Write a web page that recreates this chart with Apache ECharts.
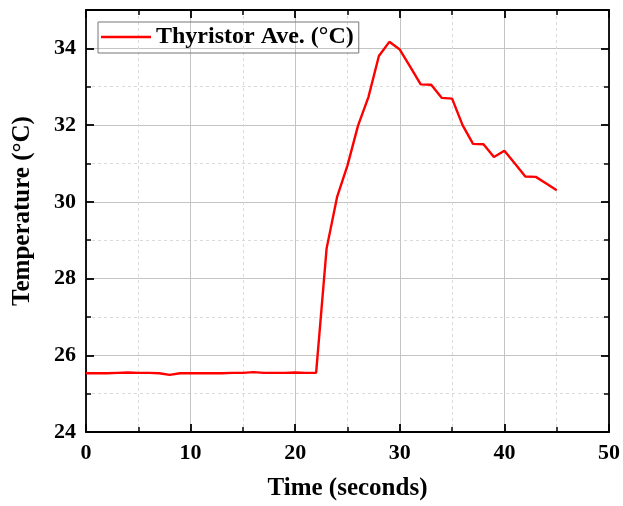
<!DOCTYPE html>
<html>
<head>
<meta charset="utf-8">
<script src="https://cdn.jsdelivr.net/npm/echarts@6/dist/echarts.min.js"></script>
<style>
html,body{margin:0;padding:0;background:#fff;}
#c{width:623px;height:506px;}
</style>
</head>
<body>
<div id="c"></div>
<script>
var seriesName = 'Thyristor Ave. (°C)';
var timeSeconds = [0,1,2,3,4,5,6,7,8,9,10,11,12,13,14,15,16,17,18,19,20,21,22,23,24,25,26,27,28,29,30,31,32,33,34,35,36,37,38,39,40,41,42,43,44,45];
var temperature = [25.53,25.53,25.53,25.54,25.55,25.54,25.54,25.53,25.49,25.53,25.53,25.53,25.53,25.53,25.54,25.54,25.56,25.54,25.54,25.54,25.55,25.54,25.54,28.78,30.12,30.95,31.98,32.73,33.8,34.17,33.97,33.52,33.06,33.05,32.71,32.69,32.0,31.51,31.5,31.17,31.33,31.0,30.66,30.65,30.48,30.3];
var xTitle = 'Time (seconds)';
var yTitle = 'Temperature (°C)';

var font = '"Liberation Serif", "Times New Roman", serif';
var pts = timeSeconds.map(function(t,i){return [t, temperature[i]];});

var chart = echarts.init(document.getElementById('c'), null, {renderer:'canvas'});
var axisLineStyle = {color:'#000', width:1.8};
chart.setOption({
  animation:false,
  backgroundColor:'#fff',
  grid:{left:86, right:13, top:10, bottom:73, containLabel:false},
  legend:{
    show:true, left:98, top:22, orient:'horizontal',
    padding:[3,5,4,3], itemWidth:50, itemHeight:14, itemGap:5,
    borderColor:'#777', borderWidth:1,
    textStyle:{fontFamily:font, fontWeight:'bold', fontSize:24, color:'#000'},
    data:[{name:seriesName, icon:'path://M0,0 L50,0 L50,2.5 L0,2.5 Z'}]
  },
  xAxis:[{
    type:'value', min:0, max:50, interval:10, position:'bottom',
    name:xTitle, nameLocation:'middle', nameGap:44,
    nameTextStyle:{fontFamily:font, fontWeight:'bold', fontSize:25, color:'#000'},
    axisLine:{show:true, onZero:false, lineStyle:axisLineStyle},
    axisTick:{show:true, inside:true, length:8, lineStyle:axisLineStyle},
    minorTick:{show:true, splitNumber:2, length:5, lineStyle:{color:'#000', width:1.5}},
    axisLabel:{fontFamily:font, fontWeight:'bold', fontSize:22, color:'#000', margin:10},
    splitLine:{show:true, lineStyle:{color:'#c4c4c4', width:1}},
    minorSplitLine:{show:true, lineStyle:{color:'#dadada', width:1, type:[3,3]}}
  },{
    type:'value', min:0, max:50, interval:10, position:'top',
    axisLine:{show:true, onZero:false, lineStyle:axisLineStyle},
    axisTick:{show:true, inside:true, length:8, lineStyle:axisLineStyle},
    minorTick:{show:true, splitNumber:2, length:5, lineStyle:{color:'#000', width:1.5}},
    axisLabel:{show:false}, splitLine:{show:false}
  }],
  yAxis:[{
    type:'value', min:24, max:35, interval:2, position:'left',
    name:yTitle, nameLocation:'middle', nameGap:51,
    nameTextStyle:{fontFamily:font, fontWeight:'bold', fontSize:25, color:'#000', padding:[0,0,0,20]},
    axisLine:{show:true, onZero:false, lineStyle:axisLineStyle},
    axisTick:{show:true, inside:true, length:8, lineStyle:axisLineStyle},
    minorTick:{show:true, splitNumber:2, length:5, lineStyle:{color:'#000', width:1.5}},
    axisLabel:{fontFamily:font, fontWeight:'bold', fontSize:22, color:'#000', margin:10,
      formatter:function(v){return v>34?'':String(v);}},
    splitLine:{show:true, lineStyle:{color:'#c4c4c4', width:1}},
    minorSplitLine:{show:true, lineStyle:{color:'#dadada', width:1, type:[3,3]}}
  },{
    type:'value', min:24, max:35, interval:2, position:'right',
    axisLine:{show:true, onZero:false, lineStyle:axisLineStyle},
    axisTick:{show:true, inside:true, length:8, lineStyle:axisLineStyle},
    minorTick:{show:true, splitNumber:2, length:5, lineStyle:{color:'#000', width:1.5}},
    axisLabel:{show:false}, splitLine:{show:false}
  }],
  series:[{
    name:seriesName, type:'line', data:pts, xAxisIndex:0, yAxisIndex:0,
    showSymbol:false, symbol:'none',
    lineStyle:{color:'#ff0000', width:2.4},
    itemStyle:{color:'#ff0000'}
  }]
});
</script>
</body>
</html>
